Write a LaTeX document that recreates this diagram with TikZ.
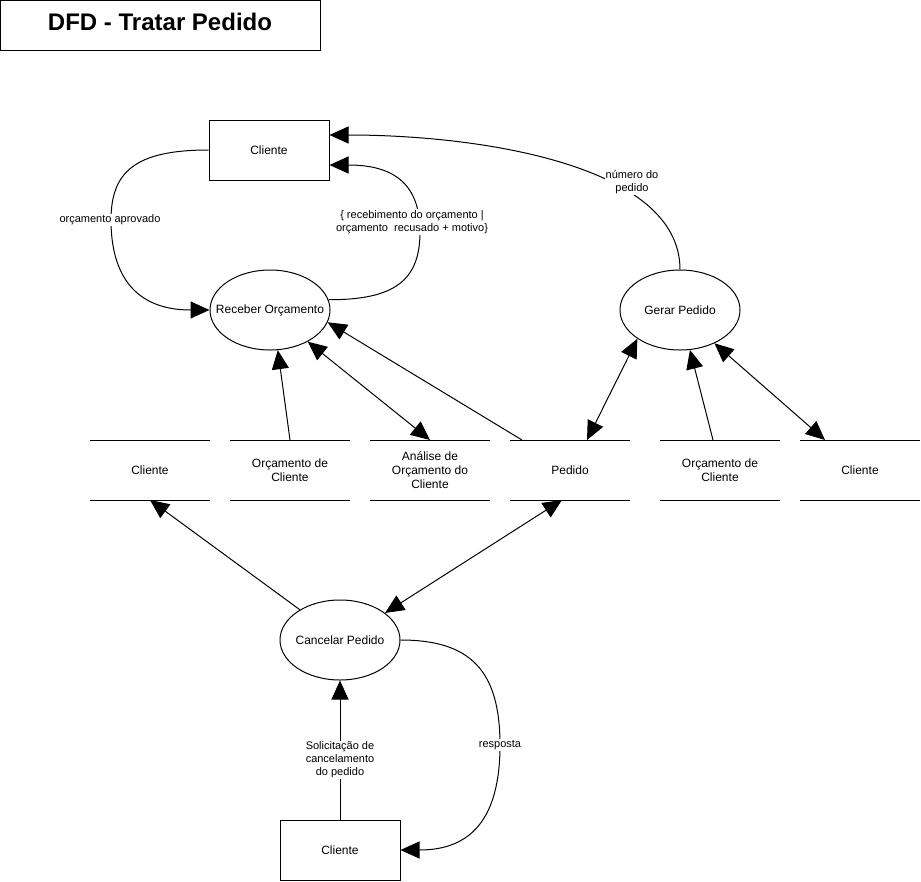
\documentclass[tikz,border=0pt]{standalone}
\usepackage{fontspec}
\setmainfont{Liberation Sans}
\usetikzlibrary{shapes.geometric,arrows.meta,calc}
\tikzset{
  nodefont/.style={font=\fontsize{12pt}{14pt}\selectfont},
  lblfont/.style={font=\fontsize{11pt}{13pt}\selectfont},
  proc/.style={draw, line width=1pt, ellipse, minimum width=120pt, minimum height=80pt, inner sep=0pt},
  ent/.style={draw, line width=1pt, rectangle, minimum width=120pt, minimum height=60pt, inner sep=0pt, nodefont, align=center},
  store/.style={rectangle, minimum width=120pt, minimum height=60pt, inner sep=0pt, outer sep=0pt, nodefont, align=center},
  lbl/.style={fill=white, inner sep=1pt, lblfont, align=center},
  tip/.tip={Triangle[length=19pt,width=17pt]},
  arr/.style={line width=1pt, -tip},
  darr/.style={line width=1pt, tip-tip},
}
\begin{document}
\begin{tikzpicture}[x=1pt,y=-1pt]
\useasboundingbox (0,0) rectangle (921,881);
\fill[white] (0,0) rectangle (921,881);

% title
\draw[line width=1pt] (0.5,0.5) rectangle (320,50);
\node[font=\fontsize{24pt}{28pt}\selectfont\bfseries] (title) at (160,22) {DFD - Tratar Pedido};

% entities
\node[ent] (cli1) at (269,150) {Cliente};
\node[ent] (cli2) at (340,850) {Cliente};

% processes
\node[proc, label={[nodefont]center:Receber Orçamento}] (recv) at (270,310) {};
\node[proc, label={[nodefont]center:Gerar Pedido}] (gerar) at (680,310) {};
\node[proc, label={[nodefont]center:Cancelar Pedido}] (canc) at (340,640) {};

% data stores
\node[store] (s1) at (150,470) {Cliente};
\node[store] (s2) at (290,470) {Orçamento de\\Cliente};
\node[store] (s3) at (430,470) {Análise de\\Orçamento do\\Cliente};
\node[store] (s4) at (570,470) {Pedido};
\node[store] (s5) at (720,470) {Orçamento de\\Cliente};
\node[store] (s6) at (860,470) {Cliente};
\foreach \s in {s1,s2,s3,s4,s5,s6}{
  \draw[line width=1pt] (\s.north west) -- (\s.north east);
  \draw[line width=1pt] (\s.south west) -- (\s.south east);
}

% connectors
\draw[arr] (cli1.west) .. controls (135,150) and (111,172) .. (111,220)
  .. controls (111,275) and (135,310) .. (recv.west);
\node[lbl] (l1) at (110,220) {orçamento aprovado};

\draw[arr] (recv.10) .. controls (395,300) and (420,280) .. (420,232)
  .. controls (420,185) and (395,165) .. ($(cli1.east)+(0,15)$);
\node[lbl] (l2) at (412,222) {\{ recebimento do orçamento |\\orçamento\ \ recusado + motivo\}};

\draw[arr] (gerar.north) .. controls (680,165) and (480,135) .. ($(cli1.east)+(0,-15)$);
\node[lbl] (l3) at (632,182) {número do\\pedido};

\draw[arr] (s2.north) -- (recv.-79);
\draw[darr] (recv.-40) -- (s3.north);
\draw[arr] ($(s4.north west)+(12,0)$) -- (recv.-12);
\draw[darr] ($(s4.north)+(17,0)$) -- (gerar.-146);
\draw[arr] ($(s5.north)+(-7,0)$) -- (gerar.-76);
\draw[darr] (gerar.-44) -- ($(s6.north west)+(25,0)$);
\draw[arr] (canc.143) -- (s1.south);
\draw[darr] (canc.31) -- ($(s4.south)+(-8,0)$);

\draw[arr] (cli2.north) -- (canc.south);
\node[lbl] (l4) at (340,760) {Solicitação de\\cancelamento\\do pedido};

\draw[arr] (canc.east) .. controls (470,640) and (500,670) .. (500,745)
  .. controls (500,820) and (470,850) .. (cli2.east);
\node[lbl] (l5) at (500,745) {resposta};
\end{tikzpicture}
\end{document}
